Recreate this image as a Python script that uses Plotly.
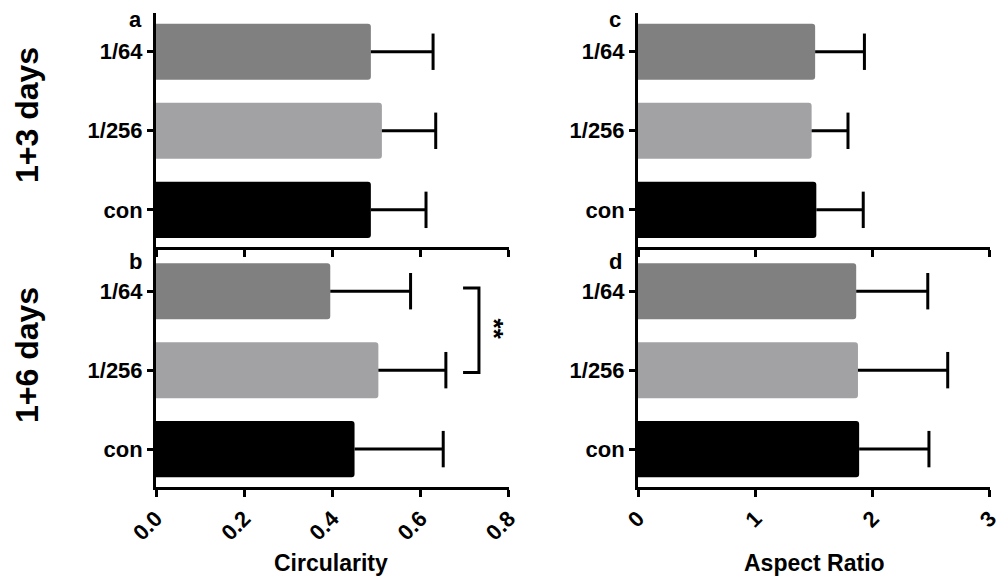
import plotly.graph_objects as go

W, H = 996, 582

def px(x):
    return x / W

def py(y):
    return 1 - y / H

categories = ["con", "1/256", "1/64"]
bar_colors = ["#000000", "#a2a2a5", "#808080"]

# Circularity
circ_3d_mean = [0.487, 0.512, 0.487]
circ_3d_err = [0.125, 0.122, 0.141]
circ_6d_mean = [0.450, 0.504, 0.395]
circ_6d_err = [0.201, 0.153, 0.182]

# Aspect ratio
ar_3d_mean = [1.52, 1.48, 1.51]
ar_3d_err = [0.40, 0.31, 0.42]
ar_6d_mean = [1.885, 1.875, 1.86]
ar_6d_err = [0.595, 0.765, 0.61]

circ_ticks = [0.0, 0.2, 0.4, 0.6, 0.8]
circ_ticktext = ["0.0", "0.2", "0.4", "0.6", "0.8"]
ar_ticks = [0, 1, 2, 3]
ar_ticktext = ["0", "1", "2", "3"]

FONT = "Arial, Liberation Sans, sans-serif"

fig = go.Figure()

panels = [
    (circ_3d_mean, circ_3d_err, "x", "y"),
    (ar_3d_mean, ar_3d_err, "x2", "y2"),
    (circ_6d_mean, circ_6d_err, "x3", "y3"),
    (ar_6d_mean, ar_6d_err, "x4", "y4"),
]

ypos = list(range(len(categories)))

for means, errs, xa, ya in panels:
    fig.add_trace(go.Bar(
        x=means, y=ypos, orientation="h", width=0.71,
        marker=dict(color=bar_colors, line=dict(width=0), cornerradius=3),
        xaxis=xa, yaxis=ya, showlegend=False, hoverinfo="x+y",
    ))
    lx, ly = [], []
    for m, e, c in zip(means, errs, ypos):
        lx += [m, m + e, None]
        ly += [c, c, None]
    fig.add_trace(go.Scatter(
        x=lx, y=ly, mode="lines", line=dict(color="black", width=3),
        xaxis=xa, yaxis=ya, showlegend=False, hoverinfo="skip",
    ))
    fig.add_trace(go.Scatter(
        x=[m + e for m, e in zip(means, errs)], y=ypos, mode="markers",
        marker=dict(symbol="line-ns-open", size=26, color="black",
                    line=dict(color="black", width=3)),
        xaxis=xa, yaxis=ya, showlegend=False, hoverinfo="skip",
    ))

xl = [px(156), px(509)]
xr = [px(638), px(990)]
yt = [py(247), py(13)]
yb = [py(487), py(247)]

axis_common = dict(showline=True, linewidth=3, linecolor="black", ticks="outside",
                   tickwidth=3, tickcolor="black", showgrid=False, zeroline=False,
                   automargin=False, ticklabeloverflow="allow",
                   tickfont=dict(family=FONT, size=22, color="black", weight="bold"))

def xaxis(domain, anchor, rng, tv, tt, labels):
    d = dict(axis_common)
    d.update(domain=domain, anchor=anchor, range=rng, tickvals=tv, ticktext=tt,
             ticklen=7, showticklabels=labels, tickangle=-45)
    return d

def yaxis(domain, anchor, rng):
    d = dict(axis_common)
    d.update(domain=domain, anchor=anchor, range=rng, tickvals=ypos,
             ticktext=categories, ticklen=6)
    return d

fig.update_layout(
    width=W, height=H, margin=dict(l=0, r=0, t=0, b=0, autoexpand=False),
    plot_bgcolor="white", paper_bgcolor="white",
    font=dict(family=FONT, color="black"),
    xaxis=xaxis(xl, "y", [0, 0.8001], circ_ticks, circ_ticktext, False),
    yaxis=yaxis(yt, "x", [-0.47, 2.49]),
    xaxis2=xaxis(xr, "y2", [0, 3.0005], ar_ticks, ar_ticktext, False),
    yaxis2=yaxis(yt, "x2", [-0.47, 2.49]),
    xaxis3=xaxis(xl, "y3", [0, 0.8001], circ_ticks, circ_ticktext, True),
    yaxis3=yaxis(yb, "x3", [-0.48, 2.56]),
    xaxis4=xaxis(xr, "y4", [0, 3.0005], ar_ticks, ar_ticktext, True),
    yaxis4=yaxis(yb, "x4", [-0.48, 2.56]),
)

bold = dict(family=FONT, color="black")

def label(text, x, y, size, angle=0, xref="paper", yref="paper"):
    return dict(text=text, x=x, y=y, xref=xref, yref=yref, textangle=angle,
                xanchor="center", yanchor="middle", showarrow=False,
                font=dict(size=size, **bold))

ann = []
# row labels
ann.append(label("<b>1+3 days</b>", px(27), py(115), 32, -90))
ann.append(label("<b>1+6 days</b>", px(27), py(355), 32, -90))
# panel letters
for letter, lx_, ly_ in [("a", 135, 20), ("b", 135, 261), ("c", 615, 20), ("d", 615, 261)]:
    ann.append(label(f"<b>{letter}</b>", px(lx_), py(ly_), 22))
# axis titles
ann.append(label("<b>Circularity</b>", px(331), py(563), 23))
ann.append(label("<b>Aspect Ratio</b>", px(814), py(563), 23))
# significance stars
ann.append(label("<b>**</b>", 0.765, 1.52, 26, 90, "x3", "y3"))
fig.update_layout(annotations=ann)

# significance bracket
br_x0, br_x1 = 0.696, 0.732
br_y0, br_y1 = 0.97, 2.04
fig.add_shape(type="path", xref="x3", yref="y3",
              path=f"M {br_x0},{br_y1} L {br_x1},{br_y1} L {br_x1},{br_y0} L {br_x0},{br_y0}",
              line=dict(color="black", width=3))

fig.write_html(
    "out.html",
    config={"displayModeBar": False},
    post_script="document.body.style.margin='0';document.body.style.overflow='hidden';",
)
